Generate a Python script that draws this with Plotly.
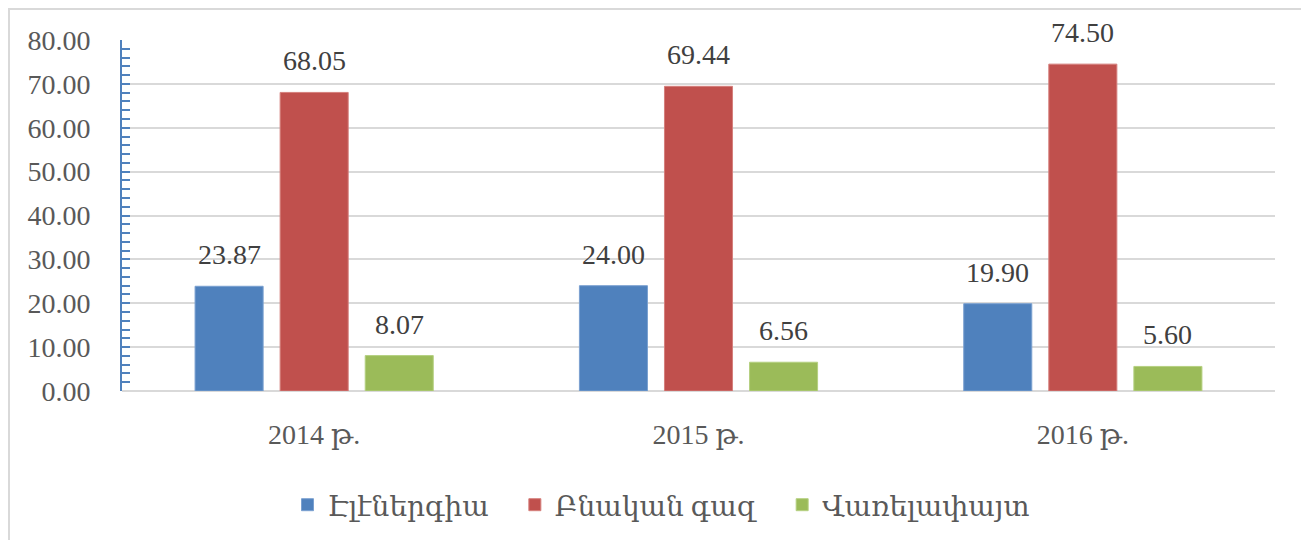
import plotly.graph_objects as go

categories = ["2014 թ.", "2015 թ.", "2016 թ."]
series_names = ["Էլէներգիա", "Բնական գազ", "Վառելափայտ"]
electricity = [23.87, 24.00, 19.90]
natural_gas = [68.05, 69.44, 74.50]
firewood = [8.07, 6.56, 5.60]
y_ticks = [0, 10, 20, 30, 40, 50, 60, 70, 80]
y_tick_labels = ["0.00", "10.00", "20.00", "30.00", "40.00", "50.00", "60.00", "70.00", "80.00"]

colors = ["#4f81bd", "#c0504d", "#9bbb59"]
edge_colors = ["#7aa0d0", "#d57f7c", "#b5d080"]
FONT = "Liberation Serif, DejaVu Serif, serif"

# the page body adds an 8px margin, so the figure is 8px smaller than the window
W, H = 1301, 532
L, R, T, B = 114, 34, 32, 149
pw = W - L - R
ph = H - T - B

def px_x(p):
    return (p - L) / pw

def px_y(p):
    return (H - B - p) / ph

fig = go.Figure()
all_series = [electricity, natural_gas, firewood]
for name, vals, c, ec in zip(series_names, all_series, colors, edge_colors):
    fig.add_trace(go.Bar(
        x=categories, y=vals, name=name + "\u00a0\u00a0\u00a0",
        marker=dict(color=c, line=dict(color=ec, width=1)),
    ))

slot = pw / 3 * (1 - 0.336) / 3
for i, vals in enumerate(all_series):
    shift = (i - 1) * slot
    for cat, v in zip(categories, vals):
        fig.add_annotation(
            x=cat, y=v, xref="x", yref="y",
            text=f"{v:.2f}", showarrow=False,
            xshift=shift, yshift=14, yanchor="bottom",
            font=dict(family=FONT, size=28, color="#404040"),
        )

fig.add_shape(
    type="rect", xref="paper", yref="paper",
    x0=px_x(1), x1=px_x(1296), y0=px_y(560), y1=px_y(1),
    line=dict(color="#d9d9d9", width=2), fillcolor="rgba(0,0,0,0)", layer="below",
)

fig.update_layout(
    width=W, height=H,
    margin=dict(l=L, r=R, t=T, b=B, autoexpand=False),
    paper_bgcolor="white", plot_bgcolor="white",
    barmode="group", bargap=0.336, bargroupgap=0.2,
    font=dict(family=FONT, color="#595959"),
    showlegend=True,
    legend=dict(
        orientation="h", x=px_x(664), xanchor="center",
        y=px_y(497), yanchor="middle",
        font=dict(family=FONT, size=28, color="#595959"),
    ),
    xaxis=dict(
        showgrid=False, showline=False, ticks="",
        tickfont=dict(family=FONT, size=28, color="#595959"),
        ticklabelstandoff=24,
    ),
    yaxis=dict(
        range=[0, 80], tickvals=y_ticks, ticktext=y_tick_labels,
        showgrid=True, gridcolor="#d9d9d9", gridwidth=2,
        zeroline=True, zerolinecolor="#d9d9d9", zerolinewidth=2,
        showline=True, linecolor="#4f81bd", linewidth=2,
        ticks="inside", ticklen=8, tickcolor="#4f81bd", tickwidth=2,
        minor=dict(dtick=2, ticks="inside", ticklen=8, tickcolor="#4f81bd", tickwidth=2, showgrid=False),
        tickfont=dict(family=FONT, size=28, color="#595959"),
        ticklabelstandoff=24,
    ),
)

fig.write_html("out.html")
